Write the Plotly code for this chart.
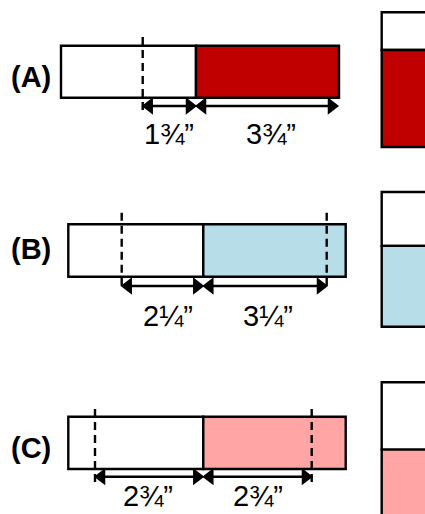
import plotly.graph_objects as go

# ---- data ----
panel_labels = ["(A)", "(B)", "(C)"]
left_dims = ["1¾”", "2¼”", "2¾”"]
right_dims = ["3¾”", "3¼”", "2¾”"]
fill_colors = ["#C00000", "#B7DDE8", "#FFA5A5"]
fill_fraction = [0.72, 0.60, 0.50]

# ---- layout geometry (pixel space) ----
bar_x0 = [61, 68.3, 68.3]
bar_x1 = [339, 345.7, 345.7]
bar_split = [196, 203.3, 203.3]
bar_top = [45.7, 224.3, 416.7]
bar_bot = [97.7, 276.7, 469]
dash_left = [142.7, 121.7, 95]
dash_right = [None, 326.7, 311.7]
dash_top = [37, 212.7, 409]
dash_bot = [113, 288, 486]
arrow_y = [106, 286, 476.7]
arrow_end = [338, 327, 312]
label_y = [134, 316, 496]
left_label_x = [169, 168, 148]
right_label_x = [270.5, 268, 257.5]
panel_label_y = [76.5, 249, 448]
box_x0, box_x1 = 381.7, 440
box_top = [12.3, 192, 382.3]
box_h = 134.7

fig = go.Figure()
shapes = []
ann = []
font_lbl = dict(family="Liberation Sans, Arial, sans-serif", size=29, color="black")
font_pan = dict(family="Liberation Sans, Arial, sans-serif", size=29, color="black")
LW = 2.4

for i in range(3):
    shapes.append(dict(type="rect", xref="x", yref="y", x0=bar_x0[i], x1=bar_split[i],
                       y0=bar_top[i], y1=bar_bot[i], fillcolor="white",
                       line=dict(color="black", width=LW)))
    shapes.append(dict(type="rect", xref="x", yref="y", x0=bar_split[i], x1=bar_x1[i],
                       y0=bar_top[i], y1=bar_bot[i], fillcolor=fill_colors[i],
                       line=dict(color="black", width=LW)))
    split_y = box_top[i] + box_h * (1 - fill_fraction[i])
    shapes.append(dict(type="rect", xref="x", yref="y", x0=box_x0, x1=box_x1,
                       y0=box_top[i], y1=split_y, fillcolor="white",
                       line=dict(color="black", width=LW)))
    shapes.append(dict(type="rect", xref="x", yref="y", x0=box_x0, x1=box_x1,
                       y0=split_y, y1=box_top[i] + box_h, fillcolor=fill_colors[i],
                       line=dict(color="black", width=LW)))
    for dx in [dash_left[i], dash_right[i]]:
        if dx is None:
            continue
        shapes.append(dict(type="line", xref="x", yref="y", x0=dx, x1=dx,
                           y0=dash_top[i], y1=dash_bot[i],
                           line=dict(color="black", width=2.4, dash="8px,5px")))
    segs = [(dash_left[i], bar_split[i]), (bar_split[i], arrow_end[i])]
    for (a, b) in segs:
        fig.add_trace(go.Scatter(x=[a + 6, b - 6], y=[arrow_y[i], arrow_y[i]], mode="lines",
                                 line=dict(color="black", width=2.6), hoverinfo="skip",
                                 showlegend=False))
        fig.add_trace(go.Scatter(x=[a + 6.5, b - 6.5], y=[arrow_y[i], arrow_y[i]], mode="markers",
                                 marker=dict(symbol=["triangle-left", "triangle-right"], size=15,
                                             color="black", line=dict(width=0)),
                                 hoverinfo="skip", showlegend=False))
    ann.append(dict(x=left_label_x[i], y=label_y[i], xref="x", yref="y", text=left_dims[i],
                    showarrow=False, font=font_lbl, xanchor="center", yanchor="middle"))
    ann.append(dict(x=right_label_x[i], y=label_y[i], xref="x", yref="y", text=right_dims[i],
                    showarrow=False, font=font_lbl, xanchor="center", yanchor="middle"))
    ann.append(dict(x=30.5, y=panel_label_y[i], xref="x", yref="y", text="<b>%s</b>" % panel_labels[i],
                    showarrow=False, font=font_pan, xanchor="center", yanchor="middle"))

fig.update_layout(
    width=425, height=514, margin=dict(l=0, r=0, t=0, b=0),
    paper_bgcolor="white", plot_bgcolor="white",
    xaxis=dict(range=[0, 425], visible=False, fixedrange=True),
    yaxis=dict(range=[514, 0], visible=False, fixedrange=True),
    shapes=shapes, annotations=ann, showlegend=False,
)
fig.write_html("out.html", config={"displayModeBar": False, "staticPlot": True},
               post_script="document.body.style.margin='0';document.body.style.overflow='hidden';")
